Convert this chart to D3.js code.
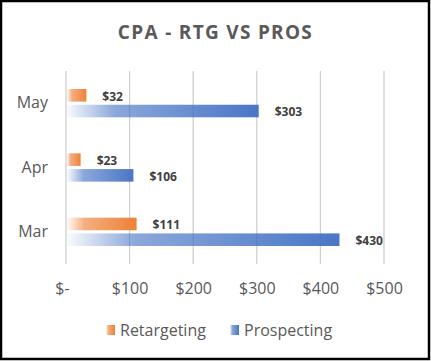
<!DOCTYPE html>
<html>
<head>
<meta charset="utf-8">
<script src="https://cdn.jsdelivr.net/npm/d3@7"></script>
<style>
  body { margin: 0; background: #fff; }
  text { font-family: "Open Sans", "Noto Sans", sans-serif; }
</style>
</head>
<body>
<script>
// chart data
var months = ["May", "Apr", "Mar"];
var seriesNames = ["Retargeting", "Prospecting"];
var retargeting = [32, 23, 111];
var prospecting = [303, 106, 430];
var xTicks = [0, 100, 200, 300, 400, 500];
var colors = ["#ED7D31", "#4472C4"];

var width = 431, height = 361;
var plotLeft = 66, plotRight = 384, plotTop = 71, plotBottom = 264;

var svg = d3.select("body").append("svg")
  .attr("width", width)
  .attr("height", height);

svg.append("rect")
  .attr("x", 1).attr("y", 1)
  .attr("width", 428).attr("height", 358)
  .attr("fill", "#fff")
  .attr("stroke", "#000")
  .attr("stroke-width", 2.5);

// gradients, white on the left fading into the series colour
var defs = svg.append("defs");
colors.forEach(function(c, i) {
  var g = defs.append("linearGradient")
    .attr("id", "grad" + i)
    .attr("x1", "0%").attr("x2", "100%")
    .attr("y1", "0%").attr("y2", "0%");
  g.append("stop").attr("offset", "0%").attr("stop-color", c).attr("stop-opacity", 0.03);
  g.append("stop").attr("offset", "25%").attr("stop-color", c).attr("stop-opacity", 0.62);
  g.append("stop").attr("offset", "100%").attr("stop-color", c).attr("stop-opacity", 0.97);
});

var x = d3.scaleLinear().domain([0, 500]).range([plotLeft, plotRight]);
var y = d3.scaleBand().domain(months).range([plotTop, plotBottom]).paddingInner(0.56).paddingOuter(0.28);
var ySub = d3.scaleBand().domain(seriesNames).range([0, y.bandwidth()]).paddingInner(0.2);

// title
svg.append("text")
  .attr("x", 215.5).attr("y", 39)
  .attr("text-anchor", "middle")
  .attr("fill", "#595959")
  .style("font-size", "19px")
  .style("font-weight", "bold")
  .style("letter-spacing", "1.3px")
  .text("CPA - RTG VS PROS");

// gridlines
svg.append("g").selectAll("line")
  .data(xTicks)
  .enter().append("line")
  .attr("x1", function(d) { return x(d); })
  .attr("x2", function(d) { return x(d); })
  .attr("y1", plotTop).attr("y2", plotBottom)
  .attr("stroke", "#d0d0d0")
  .attr("stroke-width", 1.3);

// x axis labels
var xAxis = d3.axisBottom(x)
  .tickValues(xTicks)
  .tickSize(0)
  .tickPadding(0)
  .tickFormat(function(d) { return d === 0 ? "$-" : "$" + d; });
var gx = svg.append("g")
  .attr("transform", "translate(0," + 282 + ")")
  .call(xAxis);
gx.select(".domain").remove();
gx.selectAll("text")
  .attr("fill", "#595959")
  .style("font-size", "16px")
  .attr("dy", "0.35em")
  .attr("y", 6);
gx.selectAll("text").filter(function(d) { return d === 0; }).attr("dx", -4);

// y axis labels
var yAxis = d3.axisLeft(y).tickSize(0).tickPadding(18);
var gy = svg.append("g")
  .attr("transform", "translate(" + plotLeft + ",0)")
  .call(yAxis);
gy.select(".domain").remove();
gy.selectAll("text")
  .attr("fill", "#595959")
  .style("font-size", "16px");

// bars
var rows = months.map(function(m, i) {
  return { month: m, values: [retargeting[i], prospecting[i]] };
});

var groups = svg.append("g").selectAll("g")
  .data(rows)
  .enter().append("g")
  .attr("transform", function(d) { return "translate(0," + y(d.month) + ")"; });

groups.selectAll("rect")
  .data(function(d) { return d.values.map(function(v, i) { return { v: v, i: i }; }); })
  .enter().append("rect")
  .attr("x", x(0) + 1)
  .attr("y", function(d) { return ySub(seriesNames[d.i]); })
  .attr("width", function(d) { return x(d.v) - x(0) - 1; })
  .attr("height", ySub.bandwidth())
  .attr("fill", function(d) { return "url(#grad" + d.i + ")"; });

groups.selectAll("text")
  .data(function(d) { return d.values.map(function(v, i) { return { v: v, i: i }; }); })
  .enter().append("text")
  .attr("x", function(d) { return x(d.v) + 16; })
  .attr("y", function(d) { return ySub(seriesNames[d.i]) + ySub.bandwidth() / 2 + 1; })
  .attr("dy", "0.35em")
  .attr("fill", "#404040")
  .style("font-size", "12px")
  .style("font-weight", "bold")
  .text(function(d) { return "$" + d.v; });

// legend
var legend = svg.append("g");
var legendX = [106, 230];
seriesNames.forEach(function(name, i) {
  legend.append("rect")
    .attr("x", legendX[i]).attr("y", 325)
    .attr("width", 9).attr("height", 10)
    .attr("fill", "url(#grad" + i + ")");
  legend.append("text")
    .attr("x", legendX[i] + 14).attr("y", 330)
    .attr("dy", "0.35em")
    .attr("fill", "#595959")
    .style("font-size", "16px")
    .text(name);
});
</script>
</body>
</html>
